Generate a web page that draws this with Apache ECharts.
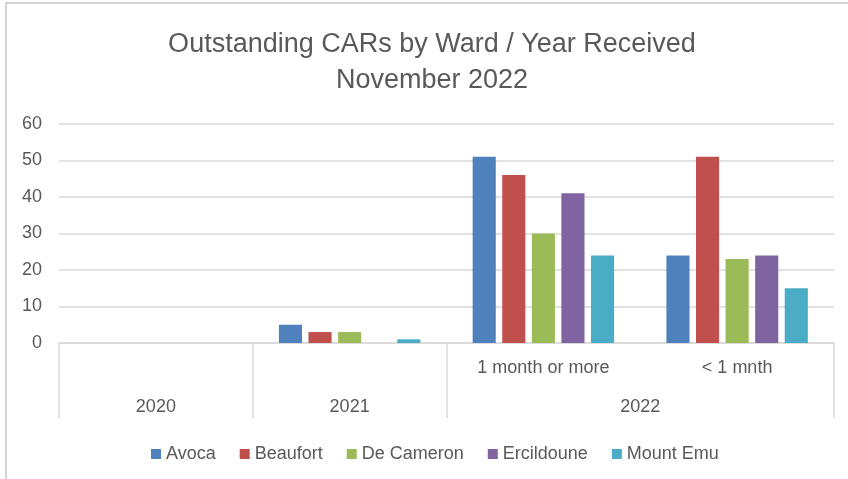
<!DOCTYPE html>
<html>
<head>
<meta charset="utf-8">
<script src="https://cdn.jsdelivr.net/npm/echarts@6/dist/echarts.min.js"></script>
<style>
  html, body { margin: 0; padding: 0; background: #fff; }
  #chart { width: 848px; height: 479px; }
</style>
</head>
<body>
<div id="chart"></div>
<script>
// inner categories (level 1) and outer groups (level 2)
const subCategories = ['2020', '2021', '1 month or more', '< 1 mnth']
const subLabels = ['', '', '1 month or more', '< 1 mnth']
const yearLabels = ['2020', '2021', '2022']
const yearSpans = [1, 1, 2]
const wards = ['Avoca', 'Beaufort', 'De Cameron', 'Ercildoune', 'Mount Emu']
const colors = ['#4f81bd', '#c0504d', '#9bbb59', '#8064a2', '#4bacc6']

const avoca = [null, 5, 51, 24]
const beaufort = [null, 3, 46, 51]
const deCameron = [null, 3, 30, 23]
const ercildoune = [null, 0, 41, 24]
const mountEmu = [null, 1, 24, 15]
const seriesValues = [avoca, beaufort, deCameron, ercildoune, mountEmu]

const yTicks = [0, 10, 20, 30, 40, 50, 60]

// group edges / centres on the outer axis, built from spans
let groupEdges = [0]
let groupCenters = []
yearSpans.forEach((s) => {
  let start = groupEdges[groupEdges.length - 1]
  groupCenters.push(start + s / 2)
  groupEdges.push(start + s)
})

const textColor = '#595959'
const lineColor = '#d9d9d9'
const fontFamily = 'Liberation Sans, Arial, sans-serif'

let myChart = echarts.init(document.getElementById('chart'))
let option = {
  backgroundColor: '#fff',
  color: colors,
  textStyle: { fontFamily: fontFamily },
  title: {
    text: 'Outstanding CARs by Ward / Year Received\nNovember 2022',
    // centre of the title sits a bit right of the canvas middle
    left: 427,
    textAlign: 'center',
    top: 22,
    textStyle: {
      color: textColor,
      fontSize: 27,
      fontWeight: 'normal',
      lineHeight: 36,
      fontFamily: fontFamily,
    },
  },
  legend: {
    data: wards,
    left: 146,
    top: 440,
    icon: 'rect',
    itemWidth: 10,
    itemHeight: 10,
    itemGap: 24,
    textStyle: { color: textColor, fontSize: 18 },
  },
  graphic: [
    { type: 'rect', shape: { x: 5, y: 2, width: 843, height: 2 }, style: { fill: '#d4d4d4' } },
    { type: 'rect', shape: { x: 5, y: 2, width: 2, height: 477 }, style: { fill: '#d4d4d4' } },
  ],
  grid: {
    left: 59,
    right: 14,
    top: 124,
    bottom: 136,
    containLabel: false,
  },
  xAxis: [
    {
      type: 'category',
      data: subCategories,
      position: 'bottom',
      axisLine: { show: true, lineStyle: { color: lineColor, width: 1.5 } },
      axisTick: { show: false },
      axisLabel: {
        interval: 0,
        color: textColor,
        fontSize: 18,
        margin: 16,
        formatter: (v, i) => subLabels[i],
      },
    },
    {
      type: 'value',
      min: 0,
      max: 4,
      position: 'bottom',
      axisLine: { show: false },
      splitLine: { show: false },
      axisTick: {
        show: true,
        customValues: groupEdges,
        length: 75,
        lineStyle: { color: lineColor, width: 1.5 },
      },
      axisLabel: {
        customValues: groupCenters,
        color: textColor,
        fontSize: 18,
        margin: 55,
        formatter: (v) => yearLabels[groupCenters.indexOf(v)],
      },
    },
  ],
  yAxis: {
    type: 'value',
    min: yTicks[0],
    max: yTicks[yTicks.length - 1],
    interval: 10,
    axisLine: { show: false },
    axisTick: { show: false },
    axisLabel: { color: textColor, fontSize: 18, margin: 17 },
    splitLine: { lineStyle: { color: lineColor, width: 1.5 } },
  },
  series: wards.map((name, i) => ({
    name: name,
    type: 'bar',
    xAxisIndex: 0,
    barGap: '28%',
    barCategoryGap: '27%',
    itemStyle: { color: colors[i] },
    data: seriesValues[i],
  })),
}
myChart.setOption(option)
</script>
</body>
</html>
